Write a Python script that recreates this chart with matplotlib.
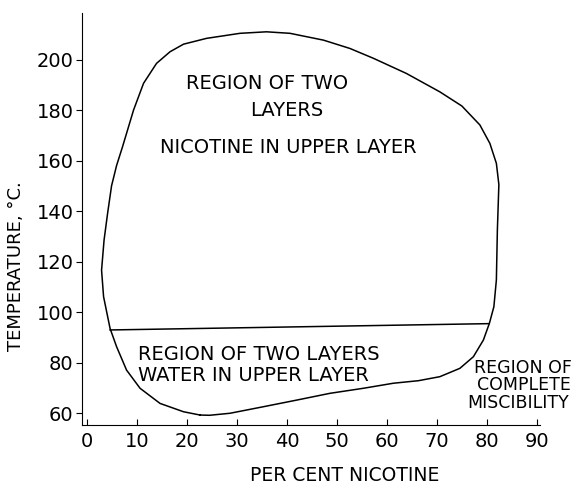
import matplotlib
matplotlib.use('Agg')
import matplotlib.pyplot as plt

# loop boundary (per cent nicotine, temperature)
loop_x = [22.6, 19.3, 14.6, 10.6, 7.9, 5.9, 4.6, 3.3, 2.9, 3.4, 4.1, 4.9, 5.9, 7.1, 9.3, 11.3,
          13.9, 16.6, 19.3, 23.9, 30.6, 35.9, 40.6, 47.3, 52.6, 57.3, 63.9, 70.6, 75.0,
          78.6, 80.6, 81.9, 82.4, 82.1, 81.9, 81.4, 80.5, 79.3, 77.3, 74.6, 70.6, 66.3,
          61.3, 55.3, 48.6, 41.9, 35.3, 28.6, 24.5, 22.6]
loop_t = [59.2, 60.5, 63.8, 69.8, 77.0, 86.3, 93.5, 106.1, 116.6, 128.5, 139.0, 150.0,
          158.0, 165.5, 180.0, 190.6, 198.5, 203.1, 206.1, 208.4, 210.4, 211.0, 210.4, 207.7,
          204.4, 200.5, 194.5, 187.2, 181.6, 174.1, 166.8, 158.9, 150.5, 132.5, 112.7,
          102.1, 95.5, 88.9, 82.3, 77.7, 74.4, 72.8, 71.8, 69.8, 67.8, 65.1, 62.5, 59.9,
          59.1, 59.2]

# horizontal line separating the two regions
line_x = [4.6, 80.4]
line_t = [92.9, 95.4]

xticks = [0, 10, 20, 30, 40, 50, 60, 70, 80, 90]
yticks = [60, 80, 100, 120, 140, 160, 180, 200]

fig = plt.figure(figsize=(5.78, 4.86), dpi=100)
ax = fig.add_axes([0.142, 0.1255, 0.792, 0.8475])

ax.plot(loop_x, loop_t, color='black', lw=1.1, solid_joinstyle='round')
ax.plot(line_x, line_t, color='black', lw=1.1)

ax.set_xlim(-1, 90.6)
ax.set_ylim(55.25, 218.4)
ax.set_xticks(xticks)
ax.set_yticks(yticks)
ax.spines['top'].set_visible(False)
ax.spines['right'].set_visible(False)
ax.tick_params(axis='both', labelsize=14, length=4, width=0.8)
ax.tick_params(axis='x', direction='in', pad=5)
ax.tick_params(axis='y', direction='out', pad=2)

ax.set_ylabel('TEMPERATURE, °C.', fontsize=13)
ax.yaxis.set_label_coords(-0.125, 0.385)
ax.set_xlabel('PER CENT NICOTINE', fontsize=13.5)
ax.xaxis.set_label_coords(0.574, -0.1)

fs = 14
ax.text(36.1, 190.7, 'REGION OF TWO', fontsize=fs, ha='center', va='center')
ax.text(40, 180, 'LAYERS', fontsize=fs, ha='center', va='center')
ax.text(40.2, 165.3, 'NICOTINE IN UPPER LAYER', fontsize=fs, ha='center', va='center')
ax.text(10.2, 83, 'REGION OF TWO LAYERS', fontsize=fs, ha='left', va='center')
ax.text(10.2, 75, 'WATER IN UPPER LAYER', fontsize=fs, ha='left', va='center')
ax.text(87.2, 77.8, 'REGION OF', fontsize=12.5, ha='center', va='center', clip_on=False)
ax.text(87.4, 71, 'COMPLETE', fontsize=12.5, ha='center', va='center', clip_on=False)
ax.text(86.2, 64, 'MISCIBILITY', fontsize=12.5, ha='center', va='center', clip_on=False)

fig.savefig('out.png', dpi=100)
